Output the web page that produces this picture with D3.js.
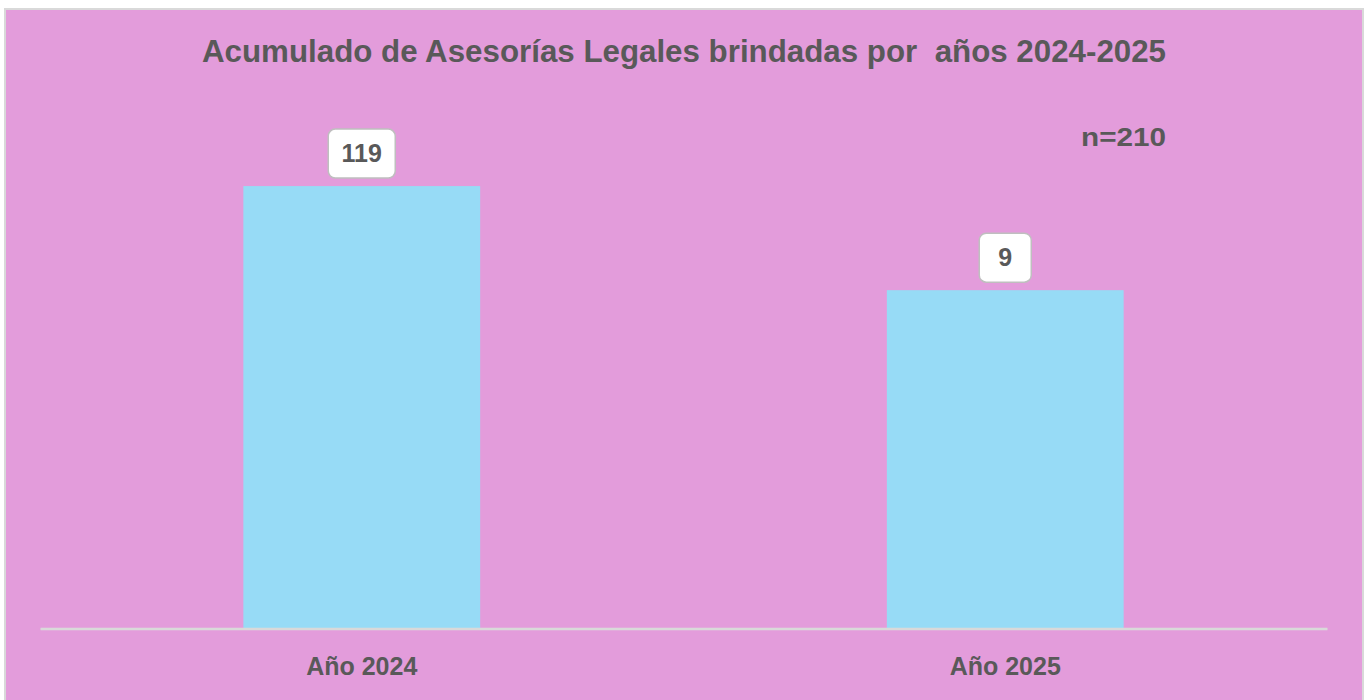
<!DOCTYPE html>
<html><head><meta charset="utf-8">
<script src="https://cdn.jsdelivr.net/npm/d3@7"></script>
<style>html,body{margin:0;padding:0;background:#fff;overflow:hidden}</style>
</head><body>
<svg id="chart" width="1364" height="700"></svg>
<script>
const categories = ["Año 2024", "Año 2025"];
const values = [119, 91];
const dataLabels = ["119", "9"];
const title = "Acumulado de Asesorías Legales brindadas por  años 2024-2025";
const note = "n=210";

const svg = d3.select("#chart");
const textColor = "#595959";

svg.append("rect").attr("x", 5).attr("y", 9).attr("width", 1358).attr("height", 700)
  .attr("fill", "#E39CDB").attr("stroke", "#D9D9D9").attr("stroke-width", 2);

const x = d3.scaleBand().domain(categories).range([40, 1327]).paddingInner(0.632).paddingOuter(0.316);
const y = d3.scaleLinear().domain([0, 140]).range([628.5, 108]);

svg.append("text").attr("x", 684).attr("y", 62).attr("text-anchor", "middle")
  .style("white-space", "pre")
  .attr("font-family", "Liberation Sans, Arial, sans-serif").attr("font-weight", "bold")
  .attr("font-size", 31).attr("fill", textColor)
  .attr("textLength", 964).attr("lengthAdjust", "spacingAndGlyphs")
  .text(title);

svg.append("text").attr("x", 1166).attr("y", 146).attr("text-anchor", "end")
  .attr("font-family", "Liberation Sans, Arial, sans-serif").attr("font-weight", "bold")
  .attr("font-size", 25).attr("fill", textColor)
  .attr("textLength", 85).attr("lengthAdjust", "spacingAndGlyphs")
  .text(note);

svg.selectAll("rect.bar").data(values).enter().append("rect").attr("class", "bar")
  .attr("x", (d, i) => x(categories[i])).attr("width", x.bandwidth())
  .attr("y", d => y(d)).attr("height", d => y(0) - y(d))
  .attr("fill", "#97DBF6");

const axis = d3.axisBottom(x).tickSize(0).tickPadding(0);
const gx = svg.append("g").attr("transform", `translate(0,${y(0)})`).call(axis);
gx.select(".domain").attr("stroke", "#D9D9D9").attr("stroke-width", 2.5);
gx.selectAll("text").attr("font-family", "Liberation Sans, Arial, sans-serif")
  .attr("font-weight", "bold").attr("font-size", 25).attr("fill", textColor)
  .attr("dy", 0).attr("y", 46);

const lab = svg.selectAll("g.lab").data(values).enter().append("g").attr("class", "lab")
  .attr("transform", (d, i) => `translate(${x(categories[i]) + x.bandwidth() / 2},${y(d) - 8})`);
lab.each(function(d, i) {
  const g = d3.select(this);
  const w = dataLabels[i].length > 1 ? 67 : 52;
  g.append("rect").attr("x", -w / 2).attr("y", -49).attr("width", w).attr("height", 49)
    .attr("rx", 7).attr("fill", "#fff").attr("stroke", "#BFBFBF").attr("stroke-width", 1.5);
  g.append("text").attr("x", 0).attr("y", -16).attr("text-anchor", "middle")
    .attr("font-family", "Liberation Sans, Arial, sans-serif").attr("font-weight", "bold")
    .attr("font-size", 25).attr("fill", textColor).text(dataLabels[i]);
});
</script>
</body></html>
